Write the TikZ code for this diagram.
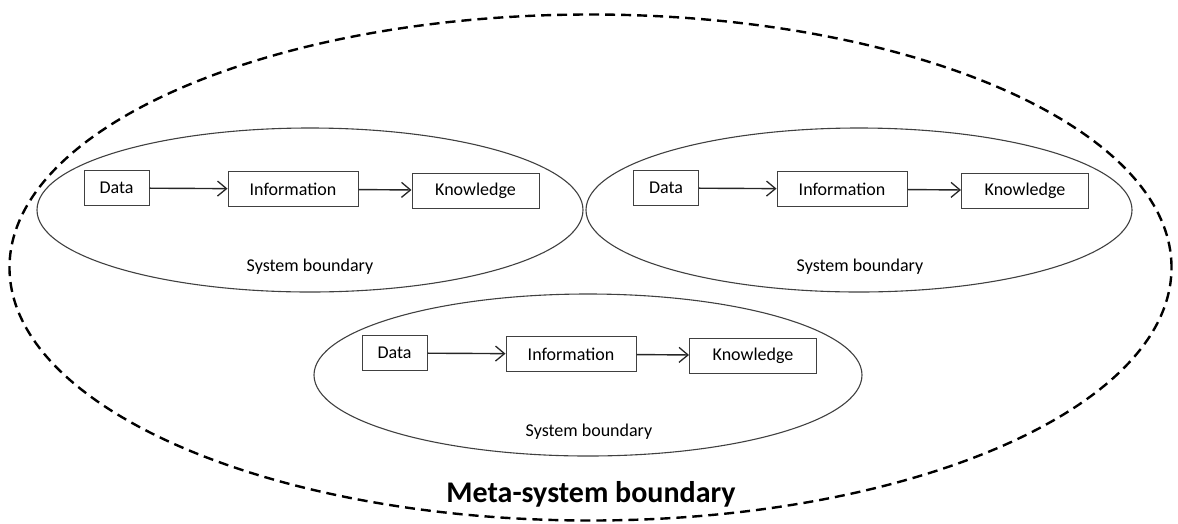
\documentclass[tikz,border=0pt]{standalone}
\usepackage{fontspec}
\setmainfont{Carlito}
\usetikzlibrary{arrows.meta}
\tikzset{
	stage/.style={draw=black!75, line width=1pt, fill=white, inner sep=0pt,
			minimum height=35pt, font=\fontsize{18}{20}\selectfont},
	flow/.style={-{Straight Barb[length=9pt,width=15pt,line width=1.3pt]}, line width=1.4pt, black!85},
	boundary/.style={draw=black!75, line width=1.1pt},
	boundlabel/.style={font=\fontsize{18}{20}\selectfont}
}

\begin{document}
\begin{tikzpicture}[x=1pt, y=-1pt]
		\useasboundingbox (0,0) rectangle (1178,523);

		% Meta-system boundary
		\draw[line width=2.4pt, dash pattern=on 10pt off 6pt] (590.5,267.5) ellipse [x radius=581pt, y radius=253pt];
		\node[font=\bfseries\fontsize{30}{32}\selectfont] (meta) at (591,494) {Meta-system boundary};

		% System boundary 1 (upper left)
		\draw[boundary] (310,210) ellipse [x radius=273pt, y radius=82pt];
		\node[stage, minimum width=65pt] (data1) at (116.5,188) {Data};
		\node[stage, minimum width=130pt] (info1) at (293,189) {Information};
		\node[stage, minimum width=127pt] (know1) at (475.5,190.5) {Knowledge};
		\draw[flow] (data1) -- (info1);
		\draw[flow] (info1) -- (know1);
		\node[boundlabel] (sys1) at (310,267) {System boundary};

		% System boundary 2 (upper right)
		\draw[boundary] (859,210) ellipse [x radius=273pt, y radius=82pt];
		\node[stage, minimum width=65pt] (data2) at (666,188) {Data};
		\node[stage, minimum width=130pt] (info2) at (842,189) {Information};
		\node[stage, minimum width=127pt] (know2) at (1025,190.5) {Knowledge};
		\draw[flow] (data2) -- (info2);
		\draw[flow] (info2) -- (know2);
		\node[boundlabel] (sys2) at (860,267) {System boundary};

		% System boundary 3 (bottom)
		\draw[boundary] (588,375) ellipse [x radius=274pt, y radius=81pt];
		\node[stage, minimum width=65pt] (data3) at (394.5,353) {Data};
		\node[stage, minimum width=130pt] (info3) at (571,354) {Information};
		\node[stage, minimum width=127pt] (know3) at (753,355.5) {Knowledge};
		\draw[flow] (data3) -- (info3);
		\draw[flow] (info3) -- (know3);
		\node[boundlabel] (sys3) at (589,432) {System boundary};
	\end{tikzpicture}
\end{document}
